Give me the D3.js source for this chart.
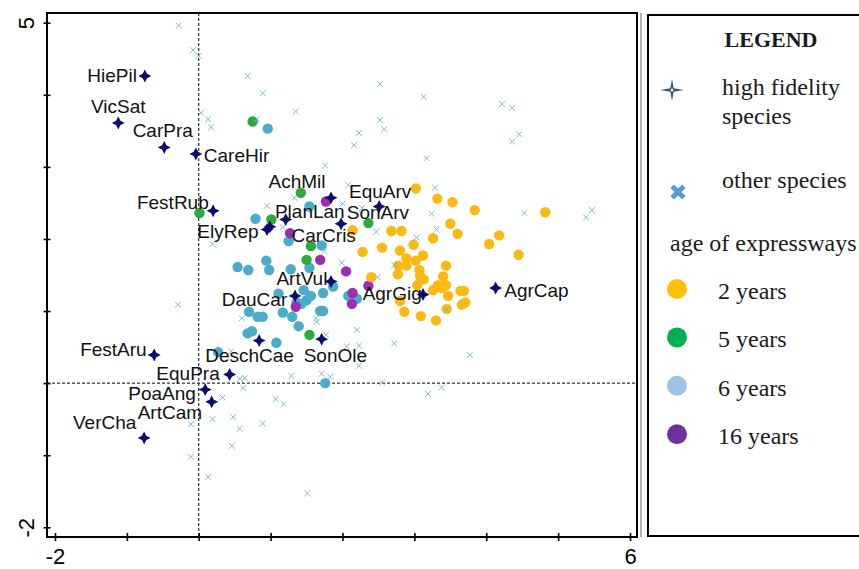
<!DOCTYPE html>
<html>
<head>
<meta charset="utf-8">
<script src="https://cdn.jsdelivr.net/npm/d3@7"></script>
<style>
  body { margin: 0; background: #fff; }
  svg { display: block; }
</style>
</head>
<body>
<svg id="chart"></svg>
<script>
var width = 859;
var height = 569;

// high fidelity species (stars)
var highFidelity = [
  [-0.75, 4.26], [-1.12, 3.61], [-0.48, 3.27], [-0.04, 3.18], [0.20, 2.39],
  [0.95, 2.13], [0.99, 2.17], [1.21, 2.27], [1.84, 2.57], [2.51, 2.45],
  [1.98, 2.21], [1.84, 1.41], [1.34, 1.21], [3.12, 1.23], [4.13, 1.32],
  [0.84, 0.59], [1.71, 0.61], [0.43, 0.12], [0.09, -0.09], [0.18, -0.26],
  [-0.76, -0.76], [-0.62, 0.39]
];

// label text and where the text starts (data units)
var speciesLabels = [
  ['HiePil', -1.55, 4.18], ['VicSat', -1.50, 3.75], ['CarPra', -0.92, 3.42],
  ['CareHir', 0.07, 3.07], ['FestRub', -0.86, 2.42], ['ElyRep', -0.02, 2.02],
  ['PlanLan', 1.06, 2.29], ['AchMil', 0.97, 2.70], ['EquArv', 2.09, 2.57],
  ['SonArv', 2.06, 2.27], ['CarCris', 1.29, 1.96], ['ArtVul', 1.08, 1.36],
  ['DauCar', 0.32, 1.07], ['AgrGig', 2.28, 1.16], ['AgrCap', 4.25, 1.20],
  ['DeschCae', 0.09, 0.29], ['SonOle', 1.46, 0.29], ['EquPra', -0.59, 0.05],
  ['PoaAng', -0.98, -0.23], ['ArtCam', -0.85, -0.50], ['VerCha', -1.75, -0.63],
  ['FestAru', -1.65, 0.38]
];

// other species (small x)
var otherSpecies = [
  [-0.28, 4.96], [-0.08, 4.62], [0.00, 4.54], [0.68, 4.26], [0.89, 4.02],
  [1.35, 3.77], [0.03, 3.75], [0.13, 3.66], [0.17, 3.55], [0.81, 3.66],
  [1.33, 2.57], [2.52, 4.15], [3.13, 3.97], [4.22, 3.87], [4.36, 3.82],
  [2.52, 3.65], [2.58, 3.52], [2.23, 3.47], [2.16, 3.30], [4.36, 3.35],
  [4.46, 3.45], [3.17, 3.12], [1.76, 3.02], [2.08, 2.75], [3.29, 2.71],
  [4.53, 2.36], [5.39, 2.30], [5.47, 2.40], [3.24, 2.35], [2.47, 2.10],
  [3.31, 2.13], [3.03, 2.02], [2.00, 2.49], [2.27, 2.43], [1.75, 1.83],
  [1.99, 1.67], [2.72, 1.64], [2.49, 1.47], [3.45, 1.02], [1.63, 0.90],
  [1.64, 0.85], [2.20, 0.74], [1.77, 0.67], [2.72, 0.55], [2.23, 0.52],
  [2.06, 0.51], [0.95, 2.46], [0.19, 1.93], [1.17, 2.16], [-0.29, 1.09],
  [0.60, 0.90], [1.29, 0.10], [1.71, 0.13], [1.83, 0.09], [0.57, 0.06],
  [0.64, 0.07], [0.62, -0.07], [0.33, -0.20], [2.23, 0.24], [3.77, 0.39],
  [2.55, 0.01], [3.19, -0.15], [3.38, -0.06], [1.07, -0.22], [1.18, -0.29],
  [-0.11, -0.57], [0.19, -0.50], [0.48, -0.47], [0.57, -0.63], [0.89, -0.56],
  [0.46, -0.87], [-0.11, -1.02], [0.13, -1.30], [1.51, -1.53], [0.45, 0.44]
];

// age of expressways
var years2 = [
  [3.02, 2.70], [3.32, 2.56], [3.53, 2.51], [3.84, 2.40], [4.82, 2.37],
  [3.50, 2.21], [3.60, 2.07], [2.14, 2.12], [2.68, 2.11], [2.82, 2.11],
  [3.26, 2.01], [4.04, 1.93], [4.18, 2.05], [4.45, 1.78], [2.28, 1.82],
  [2.55, 1.88], [2.80, 1.84], [2.99, 1.92], [3.12, 1.77], [2.89, 1.73],
  [3.02, 1.70], [2.89, 1.63], [2.78, 1.63], [3.44, 1.63], [2.77, 1.51],
  [3.07, 1.57], [3.08, 1.49], [3.13, 1.44], [3.40, 1.48], [3.04, 1.36],
  [3.33, 1.36], [3.44, 1.36], [3.38, 1.32], [3.26, 1.29], [3.47, 1.21],
  [3.64, 1.28], [3.69, 1.28], [3.71, 1.12], [3.66, 1.09], [2.40, 1.47],
  [2.80, 1.14], [2.86, 0.99], [3.09, 0.93], [3.30, 0.87], [3.45, 1.03]
];
var years5 = [
  [0.75, 3.63], [1.42, 2.64], [0.01, 2.36], [1.01, 2.27], [1.56, 1.90],
  [1.50, 1.71], [2.36, 2.22], [1.54, 0.67]
];
var years6 = [
  [0.96, 3.53], [1.54, 2.45], [0.79, 2.28], [1.25, 1.97], [1.71, 1.91],
  [0.54, 1.61], [0.69, 1.57], [0.94, 1.70], [0.98, 1.57], [1.28, 1.58],
  [1.54, 1.60], [1.87, 1.34], [1.46, 1.29], [1.56, 1.21], [1.73, 1.25],
  [2.08, 1.21], [2.20, 1.17], [1.11, 1.24], [1.36, 1.12], [1.43, 1.10],
  [1.50, 1.15], [0.70, 0.99], [0.82, 0.92], [0.89, 0.92], [1.17, 0.98],
  [1.30, 0.92], [1.69, 1.00], [1.73, 1.00], [1.39, 0.79], [0.68, 0.69],
  [0.74, 0.72], [1.08, 0.56], [1.76, 0.00], [0.27, 0.43]
];
var years16 = [
  [1.77, 2.52], [1.27, 2.08], [1.69, 1.71], [2.05, 1.55], [2.36, 1.35],
  [2.14, 1.25], [2.13, 1.10], [1.35, 1.06]
];

var xTicks = [-2, -1, 0, 1, 2, 3, 4, 5, 6];
var yTicks = [-2, -1, 0, 1, 2, 3, 4, 5];
var xTickLabels = [-2, 6];
var yTickLabels = [-2, 5];

var legendYears = ['2 years', '5 years', '6 years', '16 years'];
var legendYearColors = ['#ffc000', '#00b050', '#9dc3e6', '#7030a0'];

var frame = { left: 47, right: 637, top: 13, bottom: 537 };

var xScale = d3.scaleLinear().domain([-2, 6]).range([55, 630]);
var yScale = d3.scaleLinear().domain([-2, 5]).range([527.3, 22.7]);

var svg = d3.select('#chart')
  .attr('width', width)
  .attr('height', height)
  .style('font-family', '"Liberation Sans", Arial, sans-serif');

// 4 pointed star
var star4 = {
  draw: function(ctx, size) {
    var r = Math.sqrt(size);
    var k = r * 0.34;
    ctx.moveTo(0, -r);
    ctx.lineTo(k, -k);
    ctx.lineTo(r, 0);
    ctx.lineTo(k, k);
    ctx.lineTo(0, r);
    ctx.lineTo(-k, k);
    ctx.lineTo(-r, 0);
    ctx.lineTo(-k, -k);
    ctx.closePath();
  }
};

//dashed zero lines
svg.append('line')
  .attr('x1', xScale(0)).attr('x2', xScale(0))
  .attr('y1', frame.top).attr('y2', frame.bottom)
  .attr('stroke', '#000').attr('stroke-width', 1)
  .attr('stroke-dasharray', '3,2');

svg.append('line')
  .attr('x1', frame.left).attr('x2', frame.right)
  .attr('y1', yScale(0)).attr('y2', yScale(0))
  .attr('stroke', '#000').attr('stroke-width', 1)
  .attr('stroke-dasharray', '3,2');

function dots(data, color) {
  svg.append('g')
    .selectAll('circle')
    .data(data)
    .enter()
    .append('circle')
      .attr('cx', d => xScale(d[0]))
      .attr('cy', d => yScale(d[1]))
      .attr('r', 5.2)
      .attr('fill', color);
}

dots(years6, '#4bacc9');
dots(years5, '#2eaa3c');
dots(years16, '#9a2db4');
dots(years2, '#fdb913');

//other species
svg.append('g')
  .selectAll('path')
  .data(otherSpecies)
  .enter()
  .append('path')
    .attr('d', d3.symbol().type(d3.symbolX).size(24))
    .attr('transform', d => `translate(${xScale(d[0])}, ${yScale(d[1])})`)
    .attr('fill', 'none')
    .attr('stroke', '#6aaec4')
    .attr('stroke-opacity', 0.85)
    .attr('stroke-width', 1);

//high fidelity species
svg.append('g')
  .selectAll('path')
  .data(highFidelity)
  .enter()
  .append('path')
    .attr('d', d3.symbol().type(star4).size(42))
    .attr('transform', d => `translate(${xScale(d[0])}, ${yScale(d[1])})`)
    .attr('fill', '#0b0b70');

//labels
svg.append('g')
  .selectAll('text')
  .data(speciesLabels)
  .enter()
  .append('text')
    .attr('x', d => xScale(d[1]))
    .attr('y', d => yScale(d[2]))
    .style('font-size', '19px')
    .attr('fill', '#111')
    .text(d => d[0]);

//frame
svg.append('rect')
  .attr('x', frame.left).attr('y', frame.top)
  .attr('width', frame.right - frame.left)
  .attr('height', frame.bottom - frame.top)
  .attr('fill', 'none')
  .attr('stroke', '#000')
  .attr('stroke-width', 2);

svg.append('line')
  .attr('x1', 641).attr('x2', 641)
  .attr('y1', frame.top).attr('y2', frame.bottom)
  .attr('stroke', '#9a9a9a').attr('stroke-width', 1.5);

var xAxis = d3.axisBottom(xScale)
  .tickValues(xTicks)
  .tickSizeInner(8)
  .tickSizeOuter(0)
  .tickFormat(d => xTickLabels.indexOf(d) >= 0 ? d : '');

svg.append('g')
  .attr('transform', `translate(0, ${frame.bottom - 4})`)
  .call(xAxis)
  .call(g => g.select('.domain').remove())
  .call(g => g.selectAll('line').attr('stroke', '#000').attr('stroke-width', 1.6))
  .call(g => g.selectAll('text')
    .attr('dy', null)
    .attr('y', 31)
    .attr('fill', '#000')
    .style('font-size', '22px')
    .style('font-family', '"Liberation Sans", Arial, sans-serif'));

var yAxis = d3.axisLeft(yScale)
  .tickValues(yTicks)
  .tickSizeInner(7)
  .tickSizeOuter(0)
  .tickFormat(d => yTickLabels.indexOf(d) >= 0 ? d : '');

svg.append('g')
  .attr('transform', `translate(${frame.left + 3.5}, 0)`)
  .call(yAxis)
  .call(g => g.select('.domain').remove())
  .call(g => g.selectAll('line').attr('stroke', '#000').attr('stroke-width', 1.6))
  .call(g => g.selectAll('text')
    .attr('x', null)
    .attr('dy', null)
    .attr('transform', 'translate(-17, 0) rotate(-90)')
    .style('text-anchor', 'middle')
    .attr('fill', '#000')
    .style('font-size', '22px')
    .style('font-family', '"Liberation Sans", Arial, sans-serif'));

//legend
var legend = svg.append('g')
  .style('font-family', '"Liberation Serif", "Times New Roman", serif')
  .attr('fill', '#1a1a1a');

legend.append('rect')
  .attr('x', 648).attr('y', 15)
  .attr('width', 240).attr('height', 521)
  .attr('fill', 'none')
  .attr('stroke', '#000')
  .attr('stroke-width', 2);

legend.append('text')
  .attr('x', 771).attr('y', 47)
  .style('text-anchor', 'middle')
  .style('font-size', '22px')
  .style('font-weight', 'bold')
  .text('LEGEND');

legend.append('path')
  .attr('d', d3.symbol().type({
    draw: function(ctx, size) {
      var r = Math.sqrt(size);
      var k = r * 0.16;
      ctx.moveTo(0, -r);
      ctx.lineTo(k, -k);
      ctx.lineTo(r * 1.1, 0);
      ctx.lineTo(k, k);
      ctx.lineTo(0, r);
      ctx.lineTo(-k, k);
      ctx.lineTo(-r * 1.1, 0);
      ctx.lineTo(-k, -k);
      ctx.closePath();
    }
  }).size(120))
  .attr('transform', 'translate(672, 90)')
  .attr('fill', '#3b5b86');

legend.append('circle')
  .attr('cx', 672).attr('cy', 90).attr('r', 1.3)
  .attr('fill', '#fff');

legend.append('text')
  .attr('x', 722).attr('y', 95)
  .style('font-size', '24px')
  .text('high fidelity');

legend.append('text')
  .attr('x', 722).attr('y', 124)
  .style('font-size', '24px')
  .text('species');

legend.append('path')
  .attr('d', d3.symbol().type(d3.symbolX).size(90))
  .attr('transform', 'translate(678, 192)')
  .attr('fill', 'none')
  .attr('stroke', '#5b9bd5')
  .attr('stroke-width', 5);

legend.append('text')
  .attr('x', 722).attr('y', 188)
  .style('font-size', '24px')
  .text('other species');

legend.append('text')
  .attr('x', 670).attr('y', 251)
  .style('font-size', '24px')
  .text('age of expressways');

var items = legend.selectAll('.year')
  .data(legendYears)
  .enter()
  .append('g')
    .attr('class', 'year')
    .attr('transform', (d, i) => `translate(0, ${289 + i * 48.4})`);

items.append('circle')
  .attr('cx', 677).attr('cy', 0).attr('r', 10)
  .attr('fill', (d, i) => legendYearColors[i]);

items.append('text')
  .attr('x', 718).attr('y', 10)
  .style('font-size', '24px')
  .text(d => d);
</script>
</body>
</html>
